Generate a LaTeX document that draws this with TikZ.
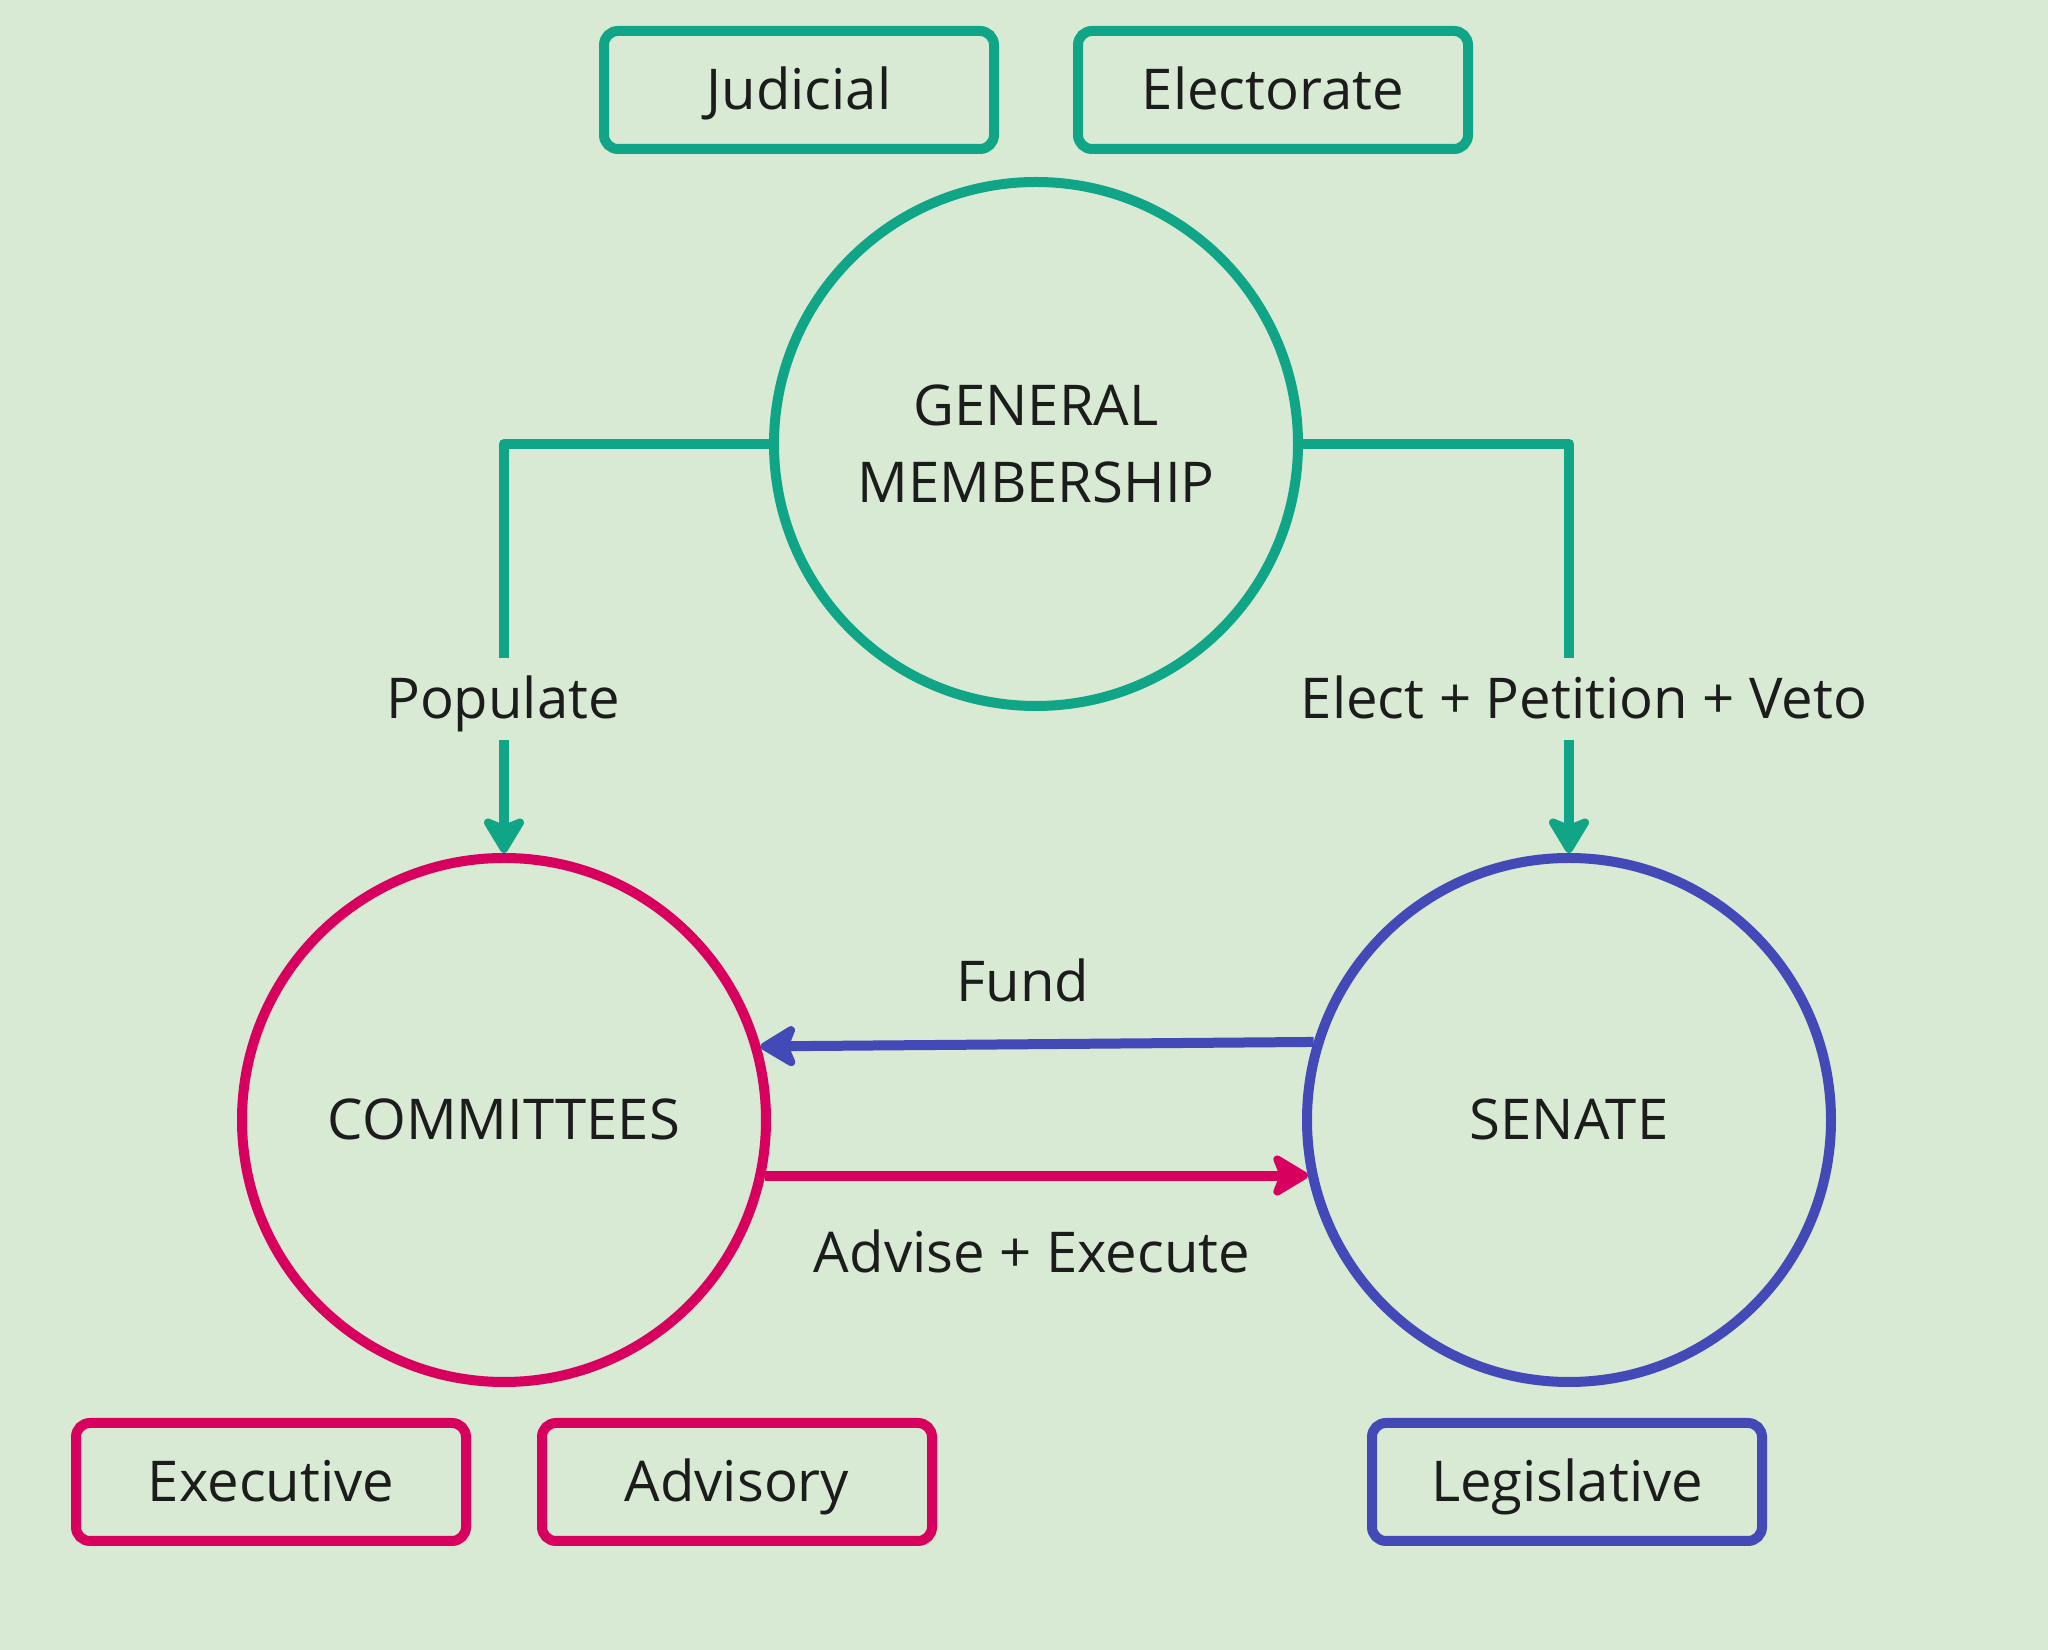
\documentclass[tikz,border=0pt]{standalone}
\usepackage{fontspec}
\setmainfont{Open Sans}
\usepackage{xcolor}
\usetikzlibrary{arrows.meta}
\definecolor{bgcol}{HTML}{D8EAD3}
\definecolor{gmgreen}{HTML}{10A586}
\definecolor{comred}{HTML}{D7005F}
\definecolor{senblue}{HTML}{4349B6}
\definecolor{ink}{HTML}{1C1C1C}

\begin{document}
\begin{tikzpicture}[x=1cm,y=1cm,
  every node/.style={font=\fontsize{16}{22}\selectfont,text=ink},
  caps/.style={text height=1.12em,text depth=0pt},
  body/.style={circle,draw,line width=1mm,minimum size=5.24cm,inner sep=0pt,align=center},
  tag/.style={caps,draw,line width=1mm,rounded corners=0.14cm,minimum width=3.9cm,minimum height=1.18cm},
  lbl/.style={caps,inner sep=0pt,minimum height=0.8cm},
  link/.style={line width=1mm,line join=round,-{Stealth[length=0.42cm,width=0.5cm,inset=0.1cm,round]}}]
\fill[bgcol] (0,0) rectangle (20.48,16.5);
\useasboundingbox (0,0) rectangle (20.48,16.5);
% bodies
\node[body,draw=gmgreen] (gm) at (10.36,12.06) {GENERAL\\MEMBERSHIP};
\node[body,caps,draw=comred] (com) at (5.04,5.30) {COMMITTEES};
\node[body,caps,draw=senblue] (sen) at (15.69,5.30) {SENATE};
% tags
\node[tag,draw=gmgreen] (jud) at (7.99,15.60) {Judicial};
\node[tag,draw=gmgreen] (ele) at (12.73,15.60) {Electorate};
\node[tag,draw=comred] (exe) at (2.71,1.68) {Executive};
\node[tag,draw=comred] (adv) at (7.37,1.68) {Advisory};
\node[tag,draw=senblue] (leg) at (15.67,1.68) {Legislative};
% labels
\node[lbl] (pop) at (5.03,9.51) {Populate};
\node[lbl] (elect) at (15.84,9.51) {Elect + Petition + Veto};
\node[caps] (fund) at (10.23,6.68) {Fund};
\node[caps] (advex) at (10.32,3.975) {Advise + Execute};
% links
\draw[gmgreen,line width=1mm,line join=round] (gm.west) -| (com.north |- pop.north);
\draw[gmgreen,link] (com.north |- pop.south) -- (com.north);
\draw[gmgreen,line width=1mm,line join=round] (gm.east) -| (sen.north |- elect.north);
\draw[gmgreen,link] (sen.north |- elect.south) -- (sen.north);
\draw[senblue,link] (sen.163.8) -- (com.16.2);
\draw[comred,link] (com.-12) -- (sen.192);
\end{tikzpicture}
\end{document}
